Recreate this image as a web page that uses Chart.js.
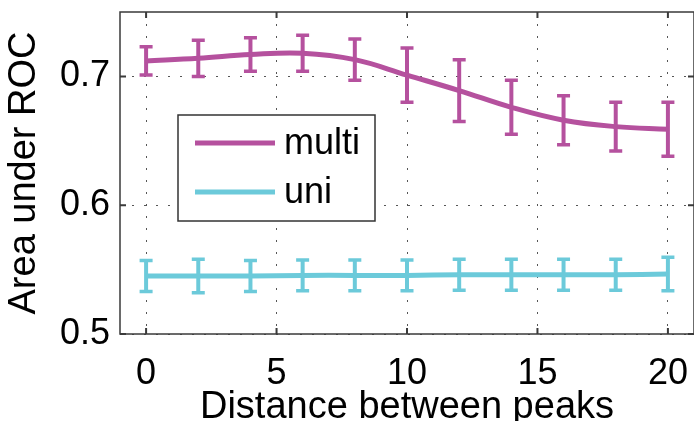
<!DOCTYPE html>
<html>
<head>
<meta charset="utf-8">
<script src="https://cdn.jsdelivr.net/npm/chart.js@4.4.0/dist/chart.umd.min.js"></script>
<style>
  html, body { margin: 0; padding: 0; background: #fff; }
  #wrap { width: 694px; height: 421px; position: relative; }
</style>
</head>
<body>
<div id="wrap"><canvas id="c" width="694" height="421"></canvas></div>
<script>
const distances = [0, 2, 4, 6, 8, 10, 12, 14, 16, 18, 20];
const multiValues = [0.712, 0.714, 0.717, 0.718, 0.713, 0.701, 0.689, 0.676, 0.666, 0.661, 0.659];
const multiErrors = [0.011, 0.014, 0.013, 0.014, 0.016, 0.021, 0.024, 0.021, 0.019, 0.019, 0.021];
const uniValues = [0.545, 0.545, 0.545, 0.5455, 0.5455, 0.5455, 0.546, 0.546, 0.546, 0.546, 0.5465];
const uniErrors = [0.012, 0.013, 0.012, 0.012, 0.012, 0.012, 0.012, 0.012, 0.012, 0.012, 0.013];
const xTickValues = [0, 5, 10, 15, 20];
const yTickValues = [0.5, 0.6, 0.7];
const seriesNames = ['multi', 'uni'];
const colors = ['#B5519E', '#6CCADA'];

const FONT = 'Liberation Sans, Arial, Helvetica, sans-serif';

const errorBars = {
  id: 'errorBars',
  afterDatasetsDraw(chart) {
    const ctx = chart.ctx;
    const xs = chart.scales.x, ys = chart.scales.y;
    chart.data.datasets.forEach((ds) => {
      ctx.save();
      ctx.strokeStyle = ds.borderColor;
      ctx.lineCap = 'butt';
      ds.errors.forEach((e, i) => {
        const px = xs.getPixelForValue(distances[i]);
        const v = ds.data[i].y;
        const t = ys.getPixelForValue(v + e);
        const b = ys.getPixelForValue(v - e);
        ctx.lineWidth = 4;
        ctx.beginPath(); ctx.moveTo(px, t); ctx.lineTo(px, b); ctx.stroke();
        ctx.lineWidth = 3.5;
        ctx.beginPath(); ctx.moveTo(px - 6.5, t); ctx.lineTo(px + 6.5, t);
        ctx.moveTo(px - 6.5, b); ctx.lineTo(px + 6.5, b); ctx.stroke();
      });
      ctx.restore();
    });
  }
};

const frame = {
  id: 'frame',
  afterDraw(chart) {
    const ctx = chart.ctx;
    const a = chart.chartArea;
    const xs = chart.scales.x, ys = chart.scales.y;
    ctx.save();
    ctx.strokeStyle = '#3a3a3a';
    ctx.lineWidth = 1.5;
    ctx.strokeRect(a.left, a.top, a.right - a.left, a.bottom - a.top);
    ctx.lineWidth = 2;
    xTickValues.forEach(v => {
      const px = xs.getPixelForValue(v);
      ctx.beginPath();
      ctx.moveTo(px, a.top); ctx.lineTo(px, a.top + 6);
      ctx.moveTo(px, a.bottom); ctx.lineTo(px, a.bottom - 6);
      ctx.stroke();
    });
    yTickValues.forEach(v => {
      const py = ys.getPixelForValue(v);
      ctx.beginPath();
      ctx.moveTo(a.left, py); ctx.lineTo(a.left + 6, py);
      ctx.moveTo(a.right, py); ctx.lineTo(a.right - 6, py);
      ctx.stroke();
    });
    ctx.restore();

    // legend box
    const bx = 178, by = 115, bw = 197, bh = 106;
    ctx.save();
    ctx.fillStyle = '#fff';
    ctx.fillRect(bx, by, bw, bh);
    ctx.strokeStyle = '#333';
    ctx.lineWidth = 1.5;
    ctx.strokeRect(bx, by, bw, bh);
    ctx.font = '36px ' + FONT;
    ctx.textBaseline = 'middle';
    ctx.fillStyle = '#000';
    const rows = [143, 192];
    seriesNames.forEach((n, i) => {
      ctx.strokeStyle = colors[i];
      ctx.lineWidth = 5;
      ctx.beginPath(); ctx.moveTo(195, rows[i]); ctx.lineTo(275, rows[i]); ctx.stroke();
      ctx.fillText(n, 284, rows[i] + 1);
    });
    ctx.restore();
  }
};

new Chart(document.getElementById('c'), {
  type: 'line',
  data: {
    datasets: [
      { label: seriesNames[0], data: distances.map((d, i) => ({x: d, y: multiValues[i]})), errors: multiErrors,
        borderColor: colors[0], borderWidth: 5, pointRadius: 0, tension: 0.4, fill: false },
      { label: seriesNames[1], data: distances.map((d, i) => ({x: d, y: uniValues[i]})), errors: uniErrors,
        borderColor: colors[1], borderWidth: 5, pointRadius: 0, tension: 0.4, fill: false }
    ]
  },
  options: {
    responsive: false,
    animation: false,
    layout: { padding: { top: 12, right: 0, left: 0, bottom: 0 } },
    plugins: { legend: { display: false }, tooltip: { enabled: false } },
    scales: {
      x: {
        type: 'linear', min: -1, max: 21,
        afterBuildTicks(s) { s.ticks = xTickValues.map(v => ({value: v})); },
        afterFit(s) { s.height = 87; s.paddingLeft = 0; s.paddingRight = 0; },
        ticks: { color: '#000', font: { size: 36, family: FONT }, padding: 18, maxRotation: 0 },
        grid: { color: '#555', lineWidth: 1, drawTicks: false },
        border: { display: false, dash: [2, 10] },
        title: { display: true, text: 'Distance between peaks', color: '#000', font: { size: 38, family: FONT }, padding: { top: 0, bottom: -9 } }
      },
      y: {
        type: 'linear', min: 0.5, max: 0.75,
        afterBuildTicks(s) { s.ticks = yTickValues.map(v => ({value: v})); },
        afterFit(s) { s.width = 120; s.paddingTop = 0; s.paddingBottom = 0; },
        ticks: { color: '#000', font: { size: 36, family: FONT }, padding: 10, callback: v => v.toFixed(1) },
        grid: { color: '#555', lineWidth: 1, drawTicks: false },
        border: { display: false, dash: [2, 10] },
        title: { display: true, text: 'Area under ROC', color: '#000', font: { size: 38, family: FONT }, padding: { top: 2, bottom: 0 } }
      }
    }
  },
  plugins: [errorBars, frame]
});
</script>
</body>
</html>
